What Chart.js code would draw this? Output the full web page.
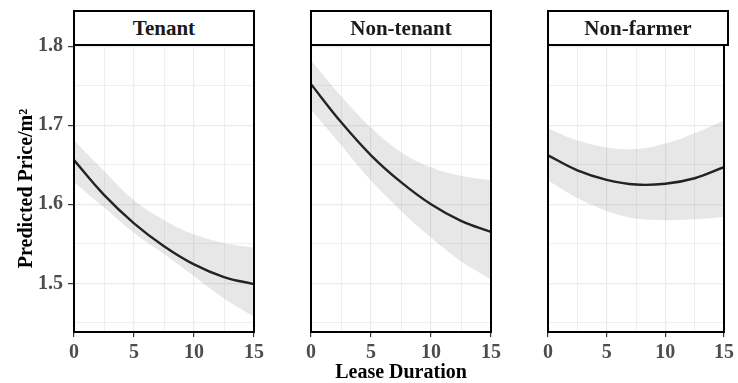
<!DOCTYPE html>
<html><head><meta charset="utf-8">
<script src="https://cdn.jsdelivr.net/npm/chart.js@4.4.1/dist/chart.umd.min.js"></script>
<style>
html,body{margin:0;padding:0;background:#fff;}
#wrap{position:relative;width:738px;height:383px;overflow:hidden;background:#fff;}
#wrap canvas{position:absolute;top:0;}
.strip{position:absolute;top:10px;height:36px;box-sizing:border-box;border:2px solid #000;background:#fff;
  font:bold 21px 'Liberation Serif','DejaVu Serif',serif;color:#1a1a1a;text-align:center;line-height:32px;}
</style></head><body>
<div id="wrap">
  <canvas id="c0" width="268" height="383" style="left:0px"></canvas>
  <canvas id="c1" width="208" height="383" style="left:297px"></canvas>
  <canvas id="c2" width="204" height="383" style="left:534px"></canvas>
  <div class="strip" style="left:73px;width:182px">Tenant</div>
  <div class="strip" style="left:310px;width:182px">Non-tenant</div>
  <div class="strip" style="left:547px;width:182px">Non-farmer</div>
</div>
<script>
// ---- data ----
const groups = ['Tenant', 'Non-tenant', 'Non-farmer'];
const leaseDuration = [0, 2.5, 5, 7.5, 10, 12.5, 15];

const tenantFit   = [1.656, 1.612, 1.576, 1.547, 1.524, 1.508, 1.499];
const tenantUpper = [1.681, 1.642, 1.605, 1.580, 1.562, 1.551, 1.545];
const tenantLower = [1.628, 1.596, 1.564, 1.537, 1.509, 1.481, 1.458];

const nonTenantFit   = [1.752, 1.704, 1.662, 1.628, 1.600, 1.579, 1.565];
const nonTenantUpper = [1.782, 1.737, 1.697, 1.666, 1.647, 1.636, 1.630];
const nonTenantLower = [1.720, 1.675, 1.630, 1.592, 1.558, 1.528, 1.505];

const nonFarmerFit   = [1.662, 1.643, 1.631, 1.625, 1.626, 1.633, 1.647];
const nonFarmerUpper = [1.696, 1.681, 1.672, 1.670, 1.677, 1.690, 1.706];
const nonFarmerLower = [1.630, 1.608, 1.592, 1.582, 1.580, 1.581, 1.584];

const xTickLabels = [0, 5, 10, 15];
const xMinorTicks = [2.5, 7.5, 12.5];
const yTickLabels = [1.5, 1.6, 1.7, 1.8];
const yMinorTicks = [1.45, 1.55, 1.65, 1.75];

const xTitle = 'Lease Duration';
const yTitle = 'Predicted Price/m²';

// ---- drawing ----
const FAMILY = "'Liberation Serif','DejaVu Serif',serif";
const xGrid = xTickLabels.concat(xMinorTicks).sort((a, b) => a - b);
const yGrid = yTickLabels.concat(yMinorTicks).sort((a, b) => a - b);
const isMajorX = v => xTickLabels.some(t => Math.abs(t - v) < 1e-9);
const isMajorY = v => yTickLabels.some(t => Math.abs(t - v) < 1e-9);

const framePlugin = {
  id: 'frame',
  afterDraw(chart) {
    const {ctx, chartArea: a} = chart;
    ctx.save();
    ctx.strokeStyle = '#000';
    ctx.lineWidth = 2;
    ctx.beginPath();
    ctx.moveTo(a.left, a.top);
    ctx.lineTo(a.left, a.bottom);
    ctx.lineTo(a.right, a.bottom);
    ctx.lineTo(a.right, a.top);
    ctx.stroke();
    ctx.restore();
  }
};

function pts(ys) { return leaseDuration.map((x, i) => ({x: x, y: ys[i]})); }

function makePanel(id, fit, upper, lower, cfg) {
  const band = 'rgba(153,153,153,0.23)';
  new Chart(document.getElementById(id), {
    type: 'line',
    data: {
      datasets: [
        {data: pts(upper), fill: '+1', backgroundColor: band, borderWidth: 0, pointRadius: 0, tension: 0.4},
        {data: pts(lower), fill: false, borderWidth: 0, pointRadius: 0, tension: 0.4},
        {data: pts(fit), fill: false, borderColor: '#000', borderWidth: 2.4, pointRadius: 0, tension: 0.4}
      ]
    },
    options: {
      responsive: false, animation: false, devicePixelRatio: 1,
      layout: {padding: {left: cfg.padL, right: cfg.padR, top: 45, bottom: 0}},
      plugins: {legend: {display: false}, tooltip: {enabled: false}},
      scales: {
        x: {
          type: 'linear', min: 0, max: 15,
          afterBuildTicks: s => { s.ticks = xGrid.map(v => ({value: v})); },
          afterFit: s => { s.height = 51; },
          ticks: {autoSkip: false, maxRotation: 0, padding: 4, color: '#4D4D4D',
                  font: {family: FAMILY, size: 20, weight: 'bold'},
                  callback: v => isMajorX(v) ? String(v) : ''},
          grid: {color: '#EBEBEB', lineWidth: c => (c.tick && isMajorX(c.tick.value)) ? 1.2 : 0.8,
                 drawTicks: true, tickLength: 5, tickWidth: 1.2,
                 tickColor: c => (c.tick && isMajorX(c.tick.value)) ? '#333' : 'rgba(0,0,0,0)'},
          border: {display: false},
          title: {display: cfg.showXTitle, text: xTitle, color: '#000',
                  font: {family: FAMILY, size: 20, weight: 'bold'}, padding: {top: 0, bottom: -2}}
        },
        y: {
          type: 'linear', min: 1.4385, max: 1.8015,
          afterBuildTicks: s => { s.ticks = yGrid.map(v => ({value: v})); },
          afterFit: s => { s.width = cfg.yWidth; },
          ticks: {display: cfg.showY, autoSkip: false, padding: 5, color: '#4D4D4D',
                  font: {family: FAMILY, size: 20, weight: 'bold'},
                  callback: v => isMajorY(v) ? v.toFixed(1) : ''},
          grid: {color: '#EBEBEB', lineWidth: c => (c.tick && isMajorY(c.tick.value)) ? 1.2 : 0.8,
                 drawTicks: cfg.showY, tickLength: 6, tickWidth: 1.2,
                 tickColor: c => (c.tick && isMajorY(c.tick.value)) ? '#333' : 'rgba(0,0,0,0)'},
          border: {display: false},
          title: {display: cfg.showY, text: yTitle, color: '#000',
                  font: {family: FAMILY, size: 20, weight: 'bold'}, padding: {top: 15, bottom: 0}}
        }
      }
    },
    plugins: [framePlugin]
  });
}

makePanel('c0', tenantFit, tenantUpper, tenantLower, {padL: 0, padR: 14, yWidth: 74, showY: true, showXTitle: false});
makePanel('c1', nonTenantFit, nonTenantUpper, nonTenantLower, {padL: 14, padR: 14, yWidth: 0, showY: false, showXTitle: true});
makePanel('c2', nonFarmerFit, nonFarmerUpper, nonFarmerLower, {padL: 14, padR: 10, yWidth: 0, showY: false, showXTitle: false});
</script>
</body></html>
